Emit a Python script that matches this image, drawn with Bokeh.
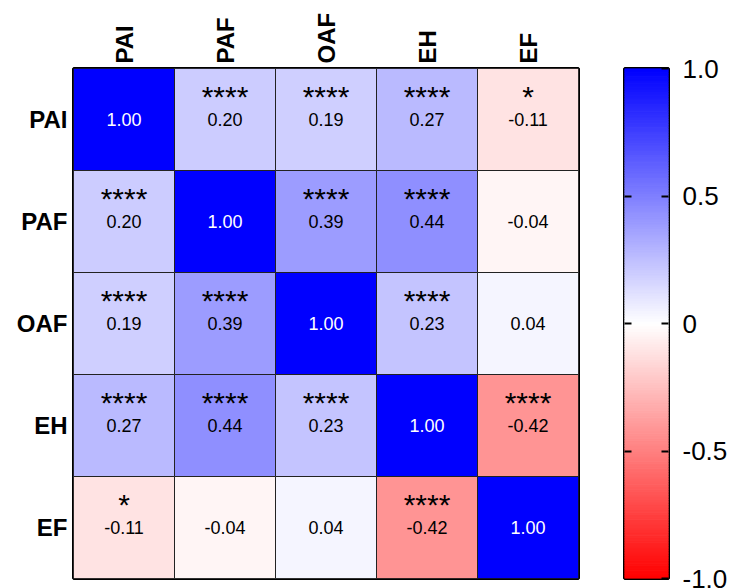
import numpy as np
from bokeh.plotting import figure
from bokeh.models import (ColumnDataSource, FixedTicker, LinearAxis, CustomJSTickFormatter, Range1d)
from bokeh.layouts import row
from bokeh.embed import file_html
from bokeh.resources import INLINE
from bokeh.core.properties import value

labels = ["PAI", "PAF", "OAF", "EH", "EF"]
r_PAI = [1.00, 0.20, 0.19, 0.27, -0.11]
r_PAF = [0.20, 1.00, 0.39, 0.44, -0.04]
r_OAF = [0.19, 0.39, 1.00, 0.23, 0.04]
r_EH = [0.27, 0.44, 0.23, 1.00, -0.42]
r_EF = [-0.11, -0.04, 0.04, -0.42, 1.00]
s_PAI = ["", "****", "****", "****", "*"]
s_PAF = ["****", "", "****", "****", ""]
s_OAF = ["****", "****", "", "****", ""]
s_EH = ["****", "****", "****", "", "****"]
s_EF = ["*", "", "", "****", ""]
cbar_ticks = [-1.0, -0.5, 0.0, 0.5, 1.0]

rows_r = [r_PAI, r_PAF, r_OAF, r_EH, r_EF]
rows_s = [s_PAI, s_PAF, s_OAF, s_EH, s_EF]


def colour(v):
    if v >= 0:
        c = int(round(255 * (1 - v)))
        return "#%02x%02x%02x" % (c, c, 255)
    c = int(round(255 * (1 + v)))
    return "#%02x%02x%02x" % (255, c, c)


xs, ys, vals, cols, txt, stars, tcol = [], [], [], [], [], [], []
for i, lab_r in enumerate(labels):
    for j, lab_c in enumerate(labels):
        v = rows_r[i][j]
        xs.append(lab_c)
        ys.append(lab_r)
        vals.append(v)
        cols.append(colour(v))
        txt.append("%.2f" % v)
        stars.append(rows_s[i][j])
        tcol.append("white" if v >= 0.9 else "black")

src = ColumnDataSource(dict(x=xs, y=ys, v=vals, c=cols, t=txt, s=stars, tc=tcol))

FONT = "Liberation Sans"

p = figure(x_range=labels, y_range=list(reversed(labels)), width=583, height=588,
           output_backend="svg", toolbar_location=None, x_axis_location="above",
           min_border_left=73, min_border_top=68, min_border_right=5, min_border_bottom=10)
p.rect(x="x", y="y", width=1, height=1, source=src, fill_color="c",
       line_color="#222222", line_width=1)
p.text(x="x", y="y", text="t", source=src, text_color="tc", text_align="center",
       text_baseline="middle", text_font=value(FONT), text_font_size="18px")
p.text(x="x", y="y", text="s", source=src, text_color="black", text_align="center",
       text_baseline="middle", text_font=value(FONT), text_font_size="30px",
       y_offset=-23)
p.grid.visible = False
p.outline_line_color = "black"
p.outline_line_width = 3
for ax in (p.xaxis[0], p.yaxis[0]):
    ax.axis_line_color = None
    ax.major_tick_line_color = None
    ax.major_tick_out = 0
    ax.major_tick_in = 0
    ax.minor_tick_line_color = None
    ax.major_label_text_font = FONT
    ax.major_label_text_font_style = "bold"
    ax.major_label_text_font_size = "24px"
    ax.major_label_text_color = "black"
p.xaxis.major_label_orientation = np.pi / 2
p.xaxis.major_label_standoff = 5
p.yaxis.major_label_standoff = 6

# colour bar
cb = figure(width=151, height=588, x_range=Range1d(0, 1), y_range=Range1d(-1, 1),
            output_backend="svg", toolbar_location=None,
            min_border_left=41, min_border_right=66, min_border_top=68, min_border_bottom=10,
            y_axis_location=None, x_axis_location=None)
edges = np.linspace(-1, 1, 201)
mids = (edges[:-1] + edges[1:]) / 2
grad = [colour(m) for m in mids]
cb.quad(left=0, right=1, bottom=edges[:-1], top=edges[1:],
        fill_color=grad, line_color=grad, line_width=1)
cb.grid.visible = False
cb.outline_line_color = "black"
cb.outline_line_width = 3
fmt = CustomJSTickFormatter(code="return tick == 0 ? '0' : tick.toFixed(1);")
ax_r = LinearAxis(ticker=FixedTicker(ticks=cbar_ticks), formatter=fmt)
ax_r.axis_line_color = None
ax_r.major_tick_in = 7
ax_r.major_tick_out = 0
ax_r.major_tick_line_width = 2
ax_r.minor_tick_line_color = None
ax_r.major_label_text_font = FONT
ax_r.major_label_text_font_size = "26px"
ax_r.major_label_text_color = "black"
ax_r.major_label_standoff = 14
cb.add_layout(ax_r, "right")
ax_l = LinearAxis(ticker=FixedTicker(ticks=[-0.5, 0.0, 0.5]))
ax_l.axis_line_color = None
ax_l.major_tick_in = 7
ax_l.major_tick_out = 0
ax_l.major_tick_line_width = 2
ax_l.minor_tick_line_color = None
ax_l.major_label_text_font_size = "0px"
ax_l.major_label_text_color = None
cb.add_layout(ax_l, "left")

layout = row(p, cb)
open("out.html", "w").write(file_html(layout, INLINE))
